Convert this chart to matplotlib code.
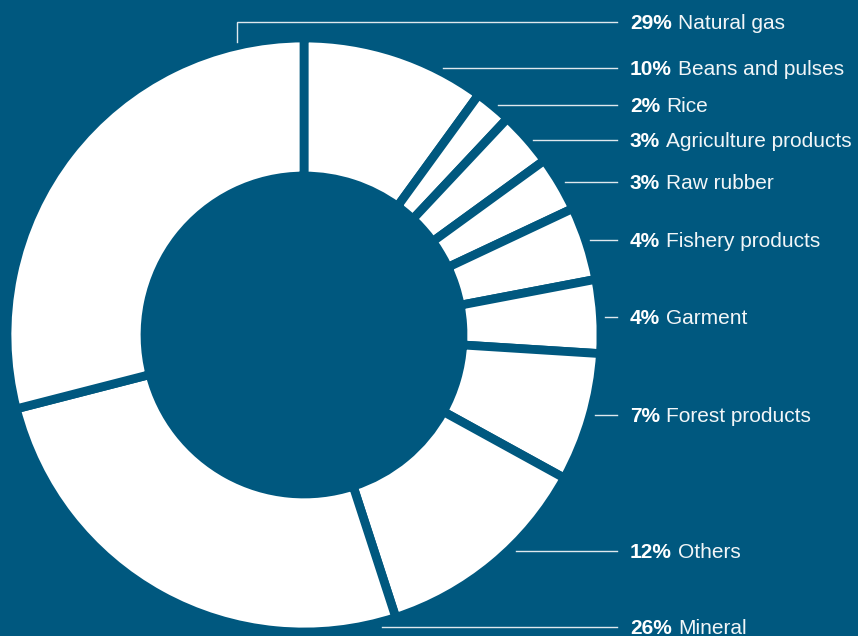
import matplotlib
matplotlib.use("Agg")
import matplotlib.pyplot as plt

# ---- data ----
categories = ["Beans and pulses", "Rice", "Agriculture products", "Raw rubber",
              "Fishery products", "Garment", "Forest products", "Others",
              "Mineral", "Natural gas"]
shares = [10, 2, 3, 3, 4, 4, 7, 12, 26, 29]

# label order (top to bottom on the right)
label_order = ["Natural gas", "Beans and pulses", "Rice", "Agriculture products",
               "Raw rubber", "Fishery products", "Garment", "Forest products",
               "Others", "Mineral"]

# ---- layout (pixel coords, image y downwards) ----
W, H = 858, 636
BG = "#00587f"
cx, cy = 304, 335
R_out, R_in = 297, 159
gap_lw = 6.3
label_y = [22, 68, 105, 140, 182, 240, 317, 415, 551, 627]
line_x0 = [237, 443, 498, 533, 565, 590, 605, 595, 516, 382]
line_x1 = 617
text_x = 630
elbow_y = 42  # natural gas leader goes down to donut edge
FS = 15

fig = plt.figure(figsize=(W / 100, H / 100), dpi=100, facecolor=BG)
ax = fig.add_axes([0, 0, 1, 1])
ax.set_facecolor(BG)

ax.pie(shares, startangle=90, counterclock=False, radius=R_out,
       center=(cx, H - cy), colors=["white"] * len(shares),
       wedgeprops=dict(width=R_out - R_in, edgecolor=BG, linewidth=gap_lw),
       frame=True)
ax.set_xlim(0, W)
ax.set_ylim(0, H)
ax.set_aspect("equal", adjustable="box")
ax.axis("off")

line_col = "#dfe8ee"
fig.canvas.draw()
renderer = fig.canvas.get_renderer()
inv = ax.transData.inverted()

for i, name in enumerate(label_order):
    y = H - label_y[i]
    x0 = line_x0[i]
    if name == "Natural gas":
        ax.plot([x0, x0, line_x1], [H - elbow_y, y, y], color=line_col, lw=1.0,
                solid_joinstyle="miter")
    else:
        ax.plot([x0, line_x1], [y, y], color=line_col, lw=1.0)
    pct = shares[categories.index(name)]
    ty = y - 1.5
    t = ax.text(text_x, ty, f"{pct}%", color="white", fontsize=FS,
                fontweight="bold", family="Liberation Sans", va="center",
                ha="left")
    bb = t.get_window_extent(renderer=renderer)
    x_end = inv.transform((bb.x1, bb.y0))[0]
    ax.text(x_end + 6, ty, name, color="#f2f6f8", fontsize=FS,
            family="Liberation Sans", va="center", ha="left")

fig.savefig("out.png", dpi=100, facecolor=BG)
